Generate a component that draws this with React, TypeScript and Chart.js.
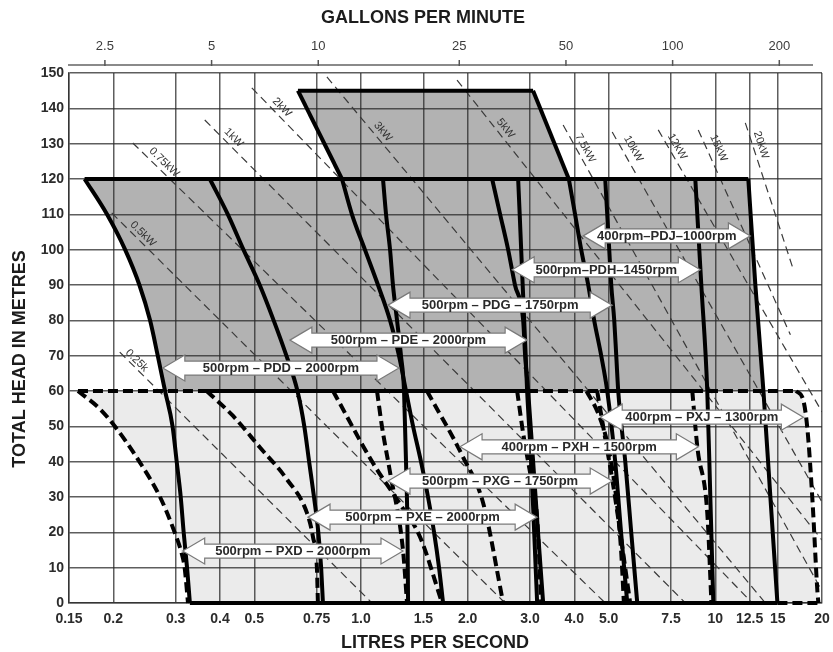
import React, { useEffect, useRef } from 'react';
import { Chart, registerables } from 'chart.js';

Chart.register(...registerables);

type P = [number, number];

const FONT = '"Liberation Sans", Arial, Helvetica, sans-serif';
const LPS_PER_GPM = 0.0757682; // imperial gallon per minute in litres per second
const GRID = 'rgba(40,40,40,0.75)';
const DARK = '#b2b2b2';
const LIGHT = '#ebebeb';

// ---------- axis ticks ----------
const xTickValues = [0.15, 0.2, 0.3, 0.4, 0.5, 0.75, 1, 1.5, 2, 3, 4, 5, 7.5, 10, 12.5, 15, 20];
const xTickLabels = ['0.15', '0.2', '0.3', '0.4', '0.5', '0.75', '1.0', '1.5', '2.0', '3.0', '4.0', '5.0', '7.5', '10', '12.5', '15', '20'];
const gpmTickValues = [2.5, 5, 10, 25, 50, 100, 200];
const gpmTickLabels = ['2.5', '5', '10', '25', '50', '100', '200'];

// ---------- PD pump curves (solid) [litres/s, metres] ----------
const pddLow: P[] = [[0.166, 120], [0.192, 110], [0.216, 100], [0.237, 90], [0.254, 80], [0.267, 70], [0.28, 60], [0.294, 50], [0.302, 40], [0.31, 30], [0.316, 20], [0.323, 10], [0.329, 0]];
const pddHigh: P[] = [[0.664, 145], [0.884, 120], [0.943, 110], [1.026, 100], [1.117, 90], [1.208, 80], [1.28, 70], [1.34, 60], [1.403, 50], [1.477, 40], [1.546, 30], [1.608, 20], [1.661, 10], [1.705, 0]];
const pdeLow: P[] = [[0.3745, 120], [0.421, 110], [0.466, 100], [0.518, 90], [0.567, 80], [0.616, 70], [0.662, 60], [0.692, 50], [0.714, 40], [0.737, 30], [0.758, 20], [0.772, 10], [0.781, 0]];
const pdeHigh: P[] = [[2.777, 120], [2.805, 110], [2.832, 100], [2.86, 90], [2.888, 80], [2.916, 70], [2.944, 60], [3.022, 40], [3.082, 20], [3.142, 0]];
const pdgLow: P[] = [[1.154, 120], [1.177, 110], [1.208, 100], [1.231, 90], [1.264, 80], [1.297, 70], [1.323, 60], [1.34, 40], [1.353, 20], [1.358, 0]];
const pdgHigh: P[] = [[4.89, 120], [4.954, 110], [5.019, 100], [5.085, 90], [5.185, 80], [5.253, 70], [5.321, 60], [5.57, 40], [5.79, 20], [6.021, 0]];
const pdhLow: P[] = [[2.345, 120], [2.47, 110], [2.602, 100], [2.72, 90], [2.869, 80], [2.906, 70], [2.963, 60], [3.061, 40], [3.16, 20], [3.267, 0]];
const pdhHigh: P[] = [[8.78, 120], [9.13, 90], [9.49, 60], [9.68, 30], [9.87, 0]];
const pdjLow: P[] = [[3.06, 145], [3.86, 120], [4.02, 110], [4.183, 100], [4.378, 90], [4.551, 80], [4.764, 70], [4.954, 60], [5.218, 40], [5.42, 20], [5.643, 0]];
const pdjHigh: P[] = [[12.39, 120], [12.97, 90], [13.67, 60], [14.3, 30], [14.97, 0]];

// ---------- PX pump curves (dashed) ----------
const pxdLow: P[] = [[0.159, 60], [0.183, 55], [0.202, 50], [0.237, 40], [0.271, 30], [0.298, 20], [0.312, 14], [0.318, 10], [0.325, 0]];
const pxdHigh: P[] = [[1.11, 60], [1.146, 50], [1.208, 37], [1.314, 15], [1.349, 0]];
const pxeLow: P[] = [[0.367, 60], [0.435, 53], [0.519, 44], [0.618, 35], [0.704, 25.5], [0.732, 18.7], [0.751, 10], [0.756, 0]];
const pxeHigh: P[] = [[2.759, 60], [2.869, 48], [3.06, 32], [3.142, 24], [3.225, 0]];
const pxgLow: P[] = [[0.834, 60], [1.081, 39.6], [1.289, 28], [1.468, 18.7], [1.694, 0]];
const pxgHigh: P[] = [[4.64, 60], [4.92, 45], [5.12, 35], [5.39, 20], [5.75, 0]];
const pxhLow: P[] = [[1.536, 60], [1.941, 41.3], [2.212, 28.3], [2.52, 0]];
const pxhHigh: P[] = [[8.61, 60], [8.9, 44], [9.49, 25.5], [9.75, 0]];
const pxjLow: P[] = [[4.33, 60], [4.7, 53], [4.99, 44], [5.25, 30], [5.42, 15], [5.52, 0]];
const pxjHigh: P[] = [[16.9, 60], [17.7, 57.5], [18.2, 49], [18.8, 29], [19.42, 3], [19.54, 0]];

// ---------- envelope lines ----------
const head145: P[] = [[0.664, 145], [3.06, 145]];
const head120: P[] = [[0.166, 120], [12.39, 120]];
const head60Dashed: P[] = [[0.159, 60], [16.9, 60]];
const head60SolidA: P[] = [[0.367, 60], [3.0, 60]];
const head60SolidB: P[] = [[4.73, 60], [8.95, 60]];
const base0Solid: P[] = [[0.329, 0], [14.97, 0]];
const base0Dashed: P[] = [[14.97, 0], [19.54, 0]];

// ---------- power lines (thin dashed) ----------
const kwLabels = ['0.25k', '0.5kW', '0.75kW', '1kW', '2kW', '3kW', '5kW', '7.5kW', '10kW', '12kW', '15kW', '20kW'];
const kw025: P[] = [[0.2086, 71.0], [1.074, 0]];
const kw05: P[] = [[0.198, 110.4], [2.55, 0]];
const kw075: P[] = [[0.227, 130.2], [4.89, 0]];
const kw1: P[] = [[0.3624, 136.7], [8.23, 0]];
const kw2: P[] = [[0.492, 145.8], [12.72, 0]];
const kw3: P[] = [[0.8014, 148.9], [13.84, 0]];
const kw5: P[] = [[1.867, 148.0], [20, 17.8]];
const kw75: P[] = [[3.72, 135.3], [20, 3.4]];
const kw10: P[] = [[5.117, 133.3], [20, 28.6]];
const kw12: P[] = [[6.9, 133.9], [20, 54.1]];
const kw15: P[] = [[8.95, 133.9], [16.29, 75.9]];
const kw20: P[] = [[12.15, 135.9], [16.61, 94.3]];
const kwLines: P[][] = [kw025, kw05, kw075, kw1, kw2, kw3, kw5, kw75, kw10, kw12, kw15, kw20];
const kwLabelAlong = [18, 37, 36, 33, 35, 78, 68, 31, 25, 24, 25, 26];
const kwLabelSide = [6, 7, 8, 8, 8, 8, 8, 8, 10, 8, 11, 8];

// ---------- range arrows ----------
const arrowTexts = [
  '500rpm – PXD – 2000rpm',
  '500rpm – PXE – 2000rpm',
  '500rpm – PXG – 1750rpm',
  '400rpm – PXH – 1500rpm',
  '400rpm – PXJ – 1300rpm',
  '500rpm – PDD – 2000rpm',
  '500rpm – PDE – 2000rpm',
  '500rpm – PDG – 1750rpm',
  '500rpm–PDH–1450rpm',
  '400rpm–PDJ–1000rpm',
];
const arrowHead = [14.7, 24.3, 34.5, 44.2, 52.6, 66.5, 74.4, 84.3, 94.3, 103.9];
const arrowFrom = [0.314, 0.709, 1.192, 1.904, 4.733, 0.276, 0.63, 1.192, 2.671, 4.238];
const arrowTo = [1.314, 3.142, 5.117, 8.954, 17.72, 1.28, 2.944, 5.117, 9.071, 12.56];

// ---------- fill envelopes built from the curves ----------
const lowerTop: P[] = [[pxdLow[0][0], 60], ...pxjHigh];
const lowerBottom: P[] = [...pxdLow, [pxjHigh[pxjHigh.length - 1][0], 0]];
const pdjHighUpper = pdjHigh.filter((p) => p[1] >= 60);
const bandTop: P[] = [[pddLow[0][0], 120], ...pdjHighUpper];
const bandBottom: P[] = [...pddLow.filter((p) => p[1] >= 60), [pdjHighUpper[pdjHighUpper.length - 1][0], 60]];
const polyTop: P[] = [pddHigh[0], pdjLow[0], pdjLow[1]];
const polyBottom: P[] = [pddHigh[0], pddHigh[1], pdjLow[1]];

const pts = (a: P[]) => a.map(([x, y]) => ({ x, y }));

const straight = (a: P[]) => ({
  data: pts(a), borderColor: '#000', borderWidth: 4, pointRadius: 0, fill: false,
  tension: 0, borderJoinStyle: 'round', clip: 6,
});
const curve = (a: P[]) => ({ ...straight(a), cubicInterpolationMode: 'monotone' });
const dashed = (a: P[]) => ({ ...curve(a), borderDash: [10, 5], borderJoinStyle: 'miter' });
const thin = (a: P[]) => ({
  data: pts(a), borderColor: '#3a3a3a', borderWidth: 1.2, borderDash: [8, 5],
  pointRadius: 0, fill: false, tension: 0,
});
const area = (a: P[], color: string, target: any) => ({
  data: pts(a), borderColor: 'rgba(0,0,0,0)', borderWidth: 0, backgroundColor: color,
  pointRadius: 0, fill: target, tension: 0,
});

function buildDatasets() {
  const curves = [pddLow, pddHigh.slice(1), pdeLow, pdeHigh, pdgLow, pdgHigh, pdhLow, pdhHigh,
    pdjLow.slice(1), pdjHigh].map(curve);
  const straights = [pddHigh.slice(0, 2), pdjLow.slice(0, 2), head145, head120, head60SolidA,
    head60SolidB, base0Solid].map(straight);
  const dashes = [pxdLow, pxdHigh, pxeLow, pxeHigh, pxgLow, pxgHigh, pxhLow, pxhHigh, pxjLow, pxjHigh,
    head60Dashed, base0Dashed].map(dashed);
  const thins = kwLines.map(thin);
  const lines: any[] = [...curves, ...straights, ...dashes, ...thins];
  const n = lines.length;
  const areas = [
    area(lowerTop, LIGHT, n + 1), area(lowerBottom, LIGHT, false),
    area(bandTop, DARK, n + 3), area(bandBottom, DARK, false),
    area(polyTop, DARK, n + 5), area(polyBottom, DARK, false),
  ];
  return [...lines, ...areas];
}

function drawArrow(ctx: CanvasRenderingContext2D, xa: number, xb: number, y: number) {
  const bh = 7, hh = 13, hl = 22;
  ctx.beginPath();
  ctx.moveTo(xa, y);
  ctx.lineTo(xa + hl, y - hh);
  ctx.lineTo(xa + hl, y - bh);
  ctx.lineTo(xb - hl, y - bh);
  ctx.lineTo(xb - hl, y - hh);
  ctx.lineTo(xb, y);
  ctx.lineTo(xb - hl, y + hh);
  ctx.lineTo(xb - hl, y + bh);
  ctx.lineTo(xa + hl, y + bh);
  ctx.lineTo(xa + hl, y + hh);
  ctx.closePath();
  ctx.fillStyle = '#ffffff';
  ctx.fill();
  ctx.lineWidth = 1.2;
  ctx.strokeStyle = '#7a7a7a';
  ctx.stroke();
}

const overlayPlugin = {
  id: 'overlay',
  afterDatasetsDraw(chart: any) {
    const { ctx, scales } = chart;
    const xs = scales.x, ys = scales.y;
    ctx.save();
    // power-line labels
    ctx.font = `11px ${FONT}`;
    ctx.fillStyle = '#333';
    ctx.textAlign = 'center';
    ctx.textBaseline = 'middle';
    kwLines.forEach((ln, i) => {
      const x0 = xs.getPixelForValue(ln[0][0]), y0 = ys.getPixelForValue(ln[0][1]);
      const x1 = xs.getPixelForValue(ln[1][0]), y1 = ys.getPixelForValue(ln[1][1]);
      const len = Math.hypot(x1 - x0, y1 - y0);
      const dx = (x1 - x0) / len, dy = (y1 - y0) / len;
      const px = x0 + dx * kwLabelAlong[i] + dy * kwLabelSide[i];
      const py = y0 + dy * kwLabelAlong[i] - dx * kwLabelSide[i];
      ctx.save();
      ctx.translate(px, py);
      ctx.rotate(Math.atan2(dy, dx));
      ctx.fillText(kwLabels[i], 0, 0);
      ctx.restore();
    });
    // range arrows
    arrowTexts.forEach((t, i) => {
      const xa = xs.getPixelForValue(arrowFrom[i]);
      const xb = xs.getPixelForValue(arrowTo[i]);
      const y = ys.getPixelForValue(arrowHead[i]);
      drawArrow(ctx, xa, xb, y);
      ctx.fillStyle = '#2a2a2a';
      ctx.font = `bold 13px ${FONT}`;
      ctx.textAlign = 'center';
      ctx.textBaseline = 'middle';
      ctx.fillText(t, (xa + xb) / 2, y + 0.5);
    });
    ctx.restore();
  },
  afterDraw(chart: any) {
    const { ctx, chartArea, scales } = chart;
    const x2 = scales.x2;
    ctx.save();
    // top (gallons) axis line and ticks
    const ly = chartArea.top - 8;
    ctx.strokeStyle = '#8a8a8a';
    ctx.lineWidth = 2;
    ctx.beginPath();
    ctx.moveTo(chartArea.left - 1, ly);
    ctx.lineTo(chartArea.right - 9, ly);
    ctx.stroke();
    ctx.strokeStyle = '#555';
    ctx.lineWidth = 1.5;
    gpmTickValues.forEach((v) => {
      const x = x2.getPixelForValue(v);
      ctx.beginPath();
      ctx.moveTo(x, ly - 5);
      ctx.lineTo(x, ly + 1);
      ctx.stroke();
    });
    // axis titles
    ctx.fillStyle = '#1c1c1c';
    ctx.font = `bold 18px ${FONT}`;
    ctx.textAlign = 'center';
    ctx.textBaseline = 'middle';
    ctx.fillText('GALLONS PER MINUTE', chartArea.left + 354, 18);
    ctx.fillText('LITRES PER SECOND', chartArea.left + 366, chartArea.bottom + 40);
    ctx.translate(20, chartArea.top + 286);
    ctx.rotate(-Math.PI / 2);
    ctx.fillText('TOTAL HEAD IN METRES', 0, 0);
    ctx.restore();
  },
};

function makeConfig(): any {
  return {
    type: 'line',
    data: { datasets: buildDatasets() },
    plugins: [overlayPlugin],
    options: {
      responsive: true,
      maintainAspectRatio: false,
      animation: false,
      events: [],
      layout: { padding: { left: 0, right: 11, top: 0, bottom: 0 } },
      plugins: {
        legend: { display: false },
        tooltip: { enabled: false },
        title: { display: false },
        filler: { drawTime: 'beforeDraw' },
      },
      scales: {
        x: {
          type: 'logarithmic',
          position: 'bottom',
          min: 0.15,
          max: 20,
          afterBuildTicks: (s: any) => { s.ticks = xTickValues.map((v) => ({ value: v })); },
          afterFit: (s: any) => { s.height = 49; s.paddingLeft = 0; s.paddingRight = 0; },
          ticks: {
            autoSkip: false, maxRotation: 0, minRotation: 0, padding: 8, color: '#2b2b2b',
            font: { family: FONT, size: 14, weight: 'bold' },
            callback: (_v: any, i: number) => xTickLabels[i],
          },
          grid: { color: GRID, lineWidth: 1.5, drawTicks: false },
          border: { display: true, color: GRID, width: 1.5 },
        },
        x2: {
          type: 'logarithmic',
          position: 'top',
          min: 0.15 / LPS_PER_GPM,
          max: 20 / LPS_PER_GPM,
          afterBuildTicks: (s: any) => { s.ticks = gpmTickValues.map((v) => ({ value: v })); },
          afterFit: (s: any) => { s.height = 73; s.paddingLeft = 0; s.paddingRight = 0; },
          ticks: {
            autoSkip: false, maxRotation: 0, minRotation: 0, padding: 19, color: '#3c3c3c',
            font: { family: FONT, size: 13 },
            callback: (_v: any, i: number) => gpmTickLabels[i],
          },
          grid: { display: false, drawTicks: false },
          border: { display: false },
        },
        y: {
          type: 'linear',
          min: 0,
          max: 150,
          afterFit: (s: any) => { s.width = 69; s.paddingTop = 0; s.paddingBottom = 0; },
          ticks: {
            stepSize: 10, padding: 5, color: '#2b2b2b',
            font: { family: FONT, size: 14, weight: 'bold' },
          },
          grid: { color: GRID, lineWidth: 1.5, drawTicks: false },
          border: { display: true, color: GRID, width: 1.5 },
        },
      },
    },
  };
}

export default function App() {
  const ref = useRef<HTMLCanvasElement | null>(null);
  useEffect(() => {
    if (!ref.current) return;
    const chart = new Chart(ref.current, makeConfig());
    return () => chart.destroy();
  }, []);
  return (
    <div style={{ position: 'absolute', left: 0, top: 0, width: 833, height: 652, background: '#fff' }}>
      <canvas ref={ref} />
    </div>
  );
}
